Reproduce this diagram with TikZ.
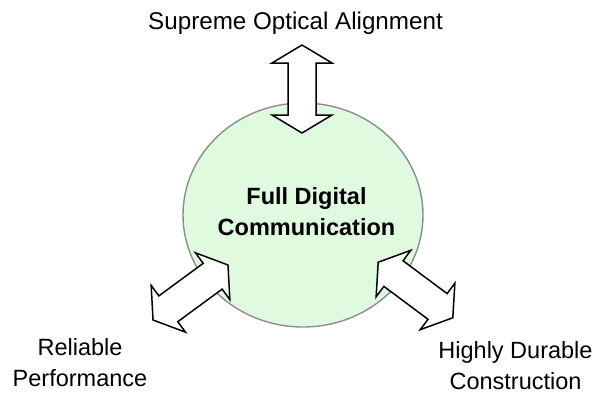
\documentclass[tikz,border=0pt]{standalone}
\usepackage{fontspec}
\setmainfont{Liberation Sans}
\usetikzlibrary{shapes.geometric}
\definecolor{hubfill}{RGB}{224,250,224}
\definecolor{hubline}{RGB}{140,140,140}
\tikzset{
  hub/.style={ellipse, draw=hubline, line width=1.4pt, fill=hubfill,
    minimum width=240pt, minimum height=224pt, inner sep=0pt},
  label/.style={align=center, font=\fontsize{23.5}{31}\selectfont, inner sep=0pt},
  hubtext/.style={align=center, font=\fontsize{23.5}{31}\selectfont\bfseries, inner sep=0pt},
  blockarrow/.style={draw=black, fill=white, line width=1.5pt, line join=miter},
}
% double-headed block arrow along the local x axis, centred on the origin
% #1 half length, #2 head length, #3 half head width, #4 half shaft width
\newcommand\dblarrow[4]{%
  (#1,0) -- (#1-#2,#3) -- (#1-#2,#4) -- (-#1+#2,#4) -- (-#1+#2,#3) --
  (-#1,0) -- (-#1+#2,-#3) -- (-#1+#2,-#4) -- (#1-#2,-#4) -- (#1-#2,-#3) -- cycle}
\begin{document}
\begin{tikzpicture}[x=1pt,y=-1pt]
  \useasboundingbox (0,0) rectangle (607,394);

  \node[hub] (hub) at (303,215) {};

  % the three block arrows around the hub
  \coordinate (upc) at (302,89);
  \coordinate (leftc) at (190.5,292.5);
  \coordinate (rightc) at (415.5,290);
  \begin{scope}[shift={(upc)}, rotate=90]
    \draw[blockarrow] \dblarrow{44}{18}{30}{14};
  \end{scope}
  \begin{scope}[shift={(leftc)}, rotate=36.3]
    \draw[blockarrow] \dblarrow{46.5}{19}{29}{16};
  \end{scope}
  \begin{scope}[shift={(rightc)}, rotate=-36.7]
    \draw[blockarrow] \dblarrow{46.5}{19}{29}{16};
  \end{scope}

  \node[hubtext] (core) at (306.5,212) {Full Digital\\Communication};

  \node[label, anchor=base, font=\fontsize{24.2}{31}\selectfont] (optic) at (295.5,29) {Supreme Optical Alignment};
  \node[label] (reliab) at (80,362.5) {Reliable\\Performance};
  \node[label] (durab) at (515.5,365.5) {Highly Durable\\Construction};
\end{tikzpicture}
\end{document}
